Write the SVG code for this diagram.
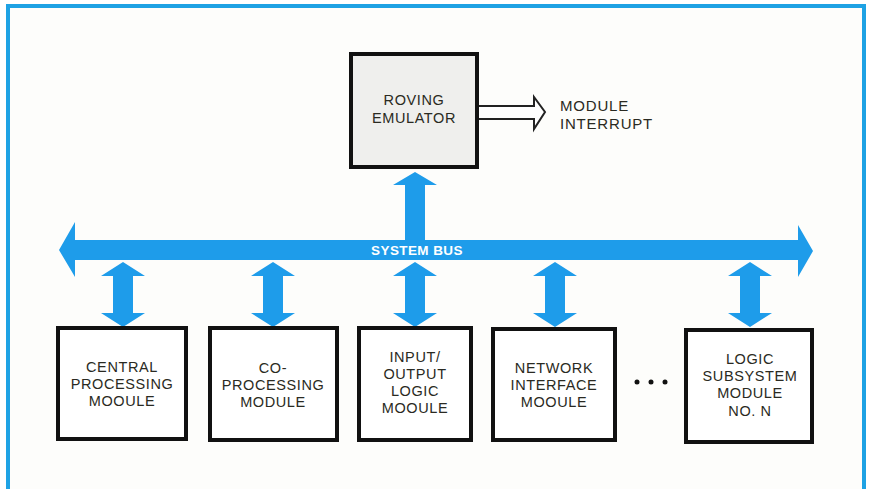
<svg xmlns="http://www.w3.org/2000/svg" width="869" height="489" viewBox="0 0 869 489">
<style>
.box{fill:#ffffff;stroke:#111111;stroke-width:4}
.t{font-family:"Liberation Sans",Arial,sans-serif;font-size:14.5px;fill:#2a2a22;text-anchor:middle;letter-spacing:0.6px}
.lbl{font-family:"Liberation Sans",Arial,sans-serif;font-size:15px;fill:#2a2a22;letter-spacing:0.8px}
.bus{fill:#1e9cea}
</style>
<defs>
<path id="dbl" d="M-10,0 L-10,-13 L-22,-13 L0,-27 L22,-13 L10,-13 L10,24 L22,24 L0,38 L-22,24 L-10,24 Z"/>
</defs>
<rect x="0" y="0" width="869" height="489" fill="#ffffff"/>
<rect x="8" y="6" width="856" height="500" fill="#fdfdfb" stroke="#1ea2e4" stroke-width="4"/>
<g id="connectors">
<path class="bus" d="M59,250 L75,222 L75,240 L798,240 L798,225 L813,251 L798,277 L798,260 L75,260 L75,277 Z"/>
<path class="bus" d="M405,240 L405,185 L393,185 L415,172 L437,185 L425,185 L425,240 Z"/>
<use href="#dbl" class="bus" transform="translate(123,289)"/>
<use href="#dbl" class="bus" transform="translate(273,289)"/>
<use href="#dbl" class="bus" transform="translate(415,289)"/>
<use href="#dbl" class="bus" transform="translate(555,289)"/>
<use href="#dbl" class="bus" transform="translate(750,289)"/>
<path d="M478,106 L534,106 L534,97 L545,112 L534,129 L534,119 L478,119" fill="#ffffff" stroke="#222222" stroke-width="2" stroke-linejoin="miter"/>
<text x="417" y="255" font-family="Liberation Sans,Arial,sans-serif" font-size="13.5" font-weight="bold" fill="#ffffff" text-anchor="middle" letter-spacing="0.4">SYSTEM BUS</text>
</g>
<g id="roving">
<rect x="351" y="54" width="126" height="113" fill="#efefed" stroke="#111111" stroke-width="4"/>
<text class="t" x="414" y="105">ROVING</text>
<text class="t" x="414" y="123">EMULATOR</text>
</g>
<g id="interrupt-label">
<text class="lbl" x="560" y="111">MODULE</text>
<text class="lbl" x="560" y="129">INTERRUPT</text>
</g>
<g id="cpu">
<rect class="box" x="58" y="328" width="128" height="111"/>
<text class="t" x="122" y="372">CENTRAL</text>
<text class="t" x="122" y="389">PROCESSING</text>
<text class="t" x="122" y="406">MOOULE</text>
</g>
<g id="coproc">
<rect class="box" x="210" y="328" width="127" height="112"/>
<text class="t" x="273" y="373">CO-</text>
<text class="t" x="273" y="390">PROCESSING</text>
<text class="t" x="273" y="407">MODULE</text>
</g>
<g id="io">
<rect class="box" x="359" y="328" width="112" height="112"/>
<text class="t" x="415" y="362">INPUT/</text>
<text class="t" x="415" y="379">OUTPUT</text>
<text class="t" x="415" y="396">LOGIC</text>
<text class="t" x="415" y="413">MOOULE</text>
</g>
<g id="network">
<rect class="box" x="493" y="329" width="122" height="111"/>
<text class="t" x="554" y="373">NETWORK</text>
<text class="t" x="554" y="390">INTERFACE</text>
<text class="t" x="554" y="407">MOOULE</text>
</g>
<g id="dots">
<circle cx="637" cy="382" r="2.5" fill="#111"/>
<circle cx="651" cy="382" r="2.5" fill="#111"/>
<circle cx="665" cy="382" r="2.5" fill="#111"/>
</g>
<g id="logic">
<rect class="box" x="686" y="330" width="126" height="112"/>
<text class="t" x="750" y="364">LOGIC</text>
<text class="t" x="750" y="381">SUBSYSTEM</text>
<text class="t" x="750" y="398">MODULE</text>
<text class="t" x="750" y="416">NO. N</text>
</g>
</svg>
